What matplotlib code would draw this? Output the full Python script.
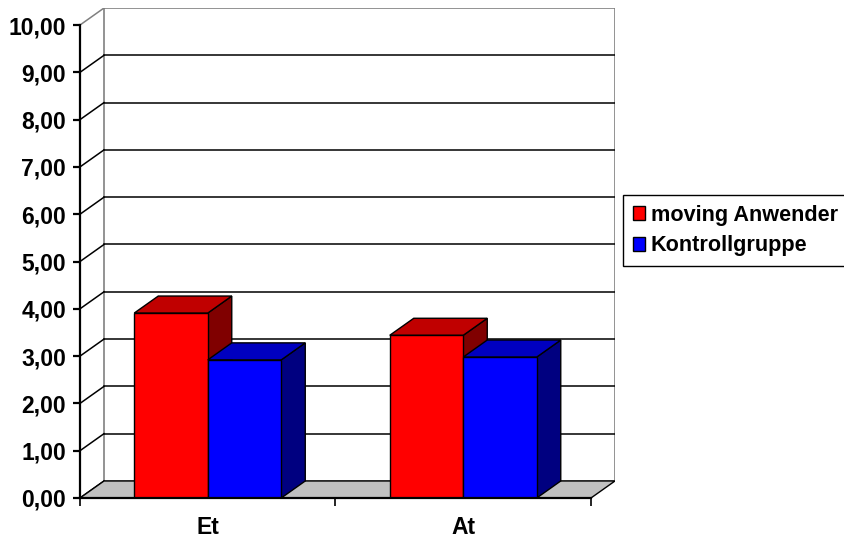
import numpy as np
import matplotlib.pyplot as plt
from matplotlib.patches import Polygon, Patch

# ---------- data ----------
categories = ["Et", "At"]
series_names = ["moving Anwender", "Kontrollgruppe"]
moving = [3.91, 3.44]
kontrolle = [2.92, 2.98]
y_ticks = list(range(0, 11))

# ---------- style ----------
front_cols = ["#FF0000", "#0000FF"]
top_cols = ["#C00000", "#0000C0"]
side_cols = ["#800000", "#000080"]
floor_col = "#C0C0C0"
wall_edge = "#808080"

dx, dy = 0.094, 0.36      # depth offset in data units
bar_w = 0.2877
n_cat = len(categories)
ymax = 10

plt.rcParams["font.family"] = ["Liberation Sans", "DejaVu Sans"]
plt.rcParams["font.weight"] = "bold"

fig = plt.figure(figsize=(8.45, 5.42), dpi=100)
ax = fig.add_axes([80 / 845, 44 / 542, 535 / 845, 490 / 542])
ax.set_xlim(0, n_cat + dx)
ax.set_ylim(0, ymax + dy)


def poly(pts, fc, ec="black", lw=1.0, z=1):
    ax.add_patch(Polygon(pts, closed=True, facecolor=fc, edgecolor=ec,
                         linewidth=lw, zorder=z, joinstyle="miter"))


# back wall
poly([(dx, dy), (n_cat + dx, dy), (n_cat + dx, ymax + dy), (dx, ymax + dy)],
     "white", ec=wall_edge, lw=1.2, z=0)

# floor
poly([(0, 0), (n_cat, 0), (n_cat + dx, dy), (dx, dy)], floor_col, lw=1.0, z=1)

# gridlines on back wall and side wall
for t in y_ticks:
    c = wall_edge if t == ymax else "black"
    if 0 < t < ymax:
        ax.plot([dx, n_cat + dx], [t + dy, t + dy], color="black", lw=1.1, zorder=0.5)
    ax.plot([0, dx], [t, t + dy], color=c, lw=1.1, zorder=0.5)

# bars
for i in range(n_cat):
    vals = [moving[i], kontrolle[i]]
    for j, v in enumerate(vals):
        x0 = i + 0.5 - bar_w + j * bar_w
        x1 = x0 + bar_w
        # side
        poly([(x1, 0), (x1 + dx, dy), (x1 + dx, v + dy), (x1, v)], side_cols[j], z=2 + j)
        # top
        poly([(x0, v), (x1, v), (x1 + dx, v + dy), (x0 + dx, v + dy)], top_cols[j], z=2 + j)
        # front
        poly([(x0, 0), (x1, 0), (x1, v), (x0, v)], front_cols[j], z=2 + j)

# axes
for s in ["top", "right"]:
    ax.spines[s].set_visible(False)
ax.spines["left"].set_bounds(0, ymax)
ax.spines["bottom"].set_bounds(0, n_cat)
ax.spines["left"].set_linewidth(1.6)
ax.spines["bottom"].set_linewidth(1.6)
ax.spines["left"].set_zorder(5)
ax.spines["bottom"].set_zorder(5)

ax.set_yticks(y_ticks)
ax.set_yticklabels([f"{t:.2f}".replace(".", ",") for t in y_ticks])
ax.tick_params(axis="y", length=5, width=1.6, pad=5, labelsize=16.5)

ax.set_xticks(range(n_cat + 1))
ax.set_xticklabels([])
ax.tick_params(axis="x", which="major", length=6, width=1.2)
ax.set_xticks([i + 0.5 for i in range(n_cat)], minor=True)
ax.set_xticklabels(categories, minor=True, fontsize=16.5)
ax.tick_params(axis="x", which="minor", length=0, pad=13)

handles = [Patch(facecolor=front_cols[k], edgecolor="black", linewidth=1.0)
           for k in range(len(series_names))]
leg = fig.legend(handles, series_names, loc="upper left",
                 bbox_to_anchor=(623 / 845, 1 - 195 / 542), borderaxespad=0,
                 fontsize=15.6, handlelength=0.58, handleheight=0.58,
                 handletextpad=0.25, borderpad=0.45, labelspacing=0.45,
                 fancybox=False, framealpha=1)
leg.get_frame().set_edgecolor("black")
leg.get_frame().set_linewidth(1.0)

fig.savefig("out.png", dpi=100)
